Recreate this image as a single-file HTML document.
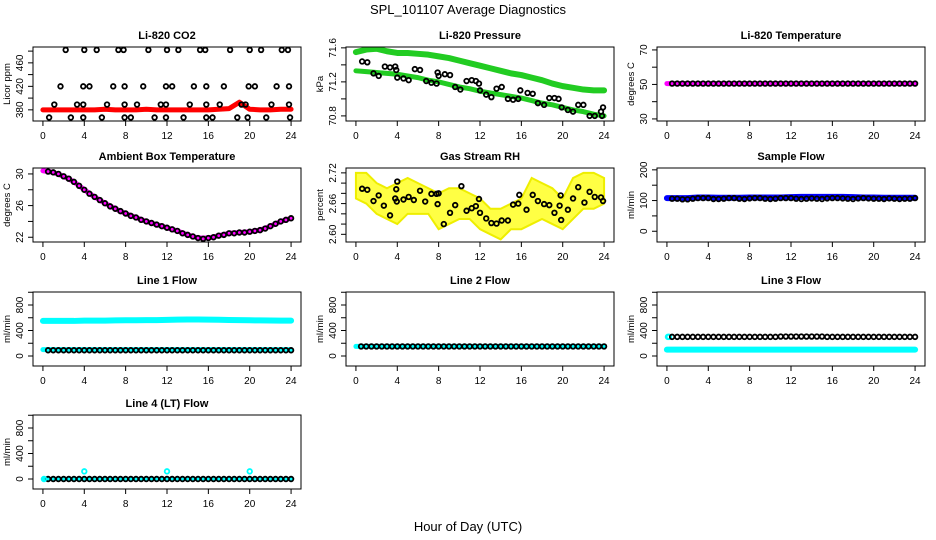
<!DOCTYPE html>
<html><head><meta charset="utf-8"><style>
html,body{margin:0;padding:0;background:#fff}
svg{display:block;font-family:"Liberation Sans",sans-serif}
</style></head><body>
<svg id="c" width="936" height="540" viewBox="0 0 936 540" xmlns="http://www.w3.org/2000/svg">
<text x="468" y="14" text-anchor="middle" font-size="13">SPL_101107  Average Diagnostics</text>
<text x="468" y="531" text-anchor="middle" font-size="13">Hour of Day (UTC)</text>
</svg>
<script>
const hours=[0,1,2,3,4,5,6,7,8,9,10,11,12,13,14,15,16,17,18,19,20,21,22,23,24];
const xTicks=[0,4,8,12,16,20,24];
const halfT=[0.5,1,1.5,2,2.5,3,3.5,4,4.5,5,5.5,6,6.5,7,7.5,8,8.5,9,9.5,10,10.5,11,11.5,12,12.5,13,13.5,14,14.5,15,15.5,16,16.5,17,17.5,18,18.5,19,19.5,20,20.5,21,21.5,22,22.5,23,23.5,24];
// CO2
const co2Band=[380,380,380,380,380,380,381,380,380,380,381,380,380,380,380,380,380,381,382,393,381,380,380,381,381];
const co2T=[2.2,4,5.2,7.3,7.8,10.2,12,13.1,15.2,15.7,18.1,20,21.1,23.1,23.7,1.7,3.9,4.5,6.8,7.9,9.7,11.9,12.5,14.6,15.8,17.5,19.9,20.5,22.6,23.8,1.1,3.3,3.9,6.2,7.9,9.1,11.4,11.9,14.2,15.8,17.1,19.2,19.6,22.1,23.8,0.6,2.7,3.9,5.7,7.9,8.5,10.8,11.9,13.6,15.8,16.4,18.8,19.8,21.6,23.9];
const co2V=[482,482,482,482,482,482,482,482,482,482,482,482,482,482,482,420,420,420,420,420,420,420,420,420,420,420,420,420,420,420,389,389,389,389,389,389,389,389,389,389,389,389,389,389,389,367,367,367,367,367,367,367,367,367,367,367,367,367,367,367];
// Pressure
const presUpper=[71.55,71.58,71.59,71.56,71.54,71.54,71.53,71.52,71.50,71.48,71.45,71.42,71.39,71.36,71.33,71.30,71.28,71.25,71.22,71.18,71.15,71.13,71.11,71.10,71.10];
const presLower=[71.33,71.32,71.31,71.30,71.29,71.27,71.25,71.22,71.20,71.17,71.14,71.12,71.09,71.07,71.05,71.03,71.01,70.98,70.95,70.93,70.90,70.87,70.85,70.82,70.80];
const presT=[0.6,1.1,1.7,2.2,2.8,3.3,3.8,3.9,4,4.6,5.1,5.7,6.2,6.8,7.3,7.8,7.9,8,8.6,9.1,9.6,10.1,10.7,11.2,11.6,11.9,12,12.6,13.1,13.6,14.1,14.7,15.2,15.7,15.9,16.6,17.1,17.6,18.2,18.7,19.2,19.6,19.9,20.5,21,21.5,22,22.6,23.1,23.7,23.8,23.9];
const presV=[71.44,71.43,71.30,71.27,71.38,71.37,71.38,71.34,71.25,71.24,71.22,71.35,71.34,71.21,71.19,71.18,71.31,71.27,71.29,71.28,71.14,71.11,71.21,71.22,71.21,71.18,71.10,71.05,71.02,71.12,71.14,71.00,70.99,71.00,71.10,71.07,71.06,70.95,70.93,71.01,71.01,71.00,70.90,70.87,70.85,70.93,70.93,70.80,70.80,70.85,70.80,70.90];
// Li-820 temperature
const tempBand=[50.5,50.5,50.5,50.5,50.5,50.5,50.5,50.5,50.5,50.5,50.5,50.5,50.5,50.5,50.5,50.5,50.5,50.5,50.5,50.5,50.5,50.5,50.5,50.5,50.5];
const tempBlack=[50.5,50.5,50.5,50.5,50.5,50.5,50.5,50.5,50.5,50.5,50.5,50.5,50.5,50.5,50.5,50.5,50.5,50.5,50.5,50.5,50.5,50.5,50.5,50.5,50.5,50.5,50.5,50.5,50.5,50.5,50.5,50.5,50.5,50.5,50.5,50.5,50.5,50.5,50.5,50.5,50.5,50.5,50.5,50.5,50.5,50.5,50.5,50.5];
// Ambient box temp
const ambBand=[30.4,30.2,29.7,29.0,28.0,27.1,26.3,25.6,25.0,24.5,24.0,23.6,23.2,22.8,22.3,21.9,21.9,22.2,22.5,22.6,22.7,22.9,23.4,24.0,24.4];
const ambBlack=[30.3,30.2,30.0,29.7,29.4,29.0,28.5,28.0,27.5,27.1,26.7,26.3,25.9,25.6,25.3,25.0,24.7,24.5,24.2,24.0,23.8,23.6,23.4,23.2,23.0,22.8,22.5,22.3,22.1,21.9,21.8,21.9,22.0,22.2,22.3,22.5,22.5,22.6,22.6,22.7,22.8,22.9,23.1,23.4,23.7,24.0,24.2,24.4];
// Gas stream RH
const rhHigh=[2.72,2.72,2.70,2.69,2.70,2.71,2.70,2.69,2.68,2.69,2.69,2.68,2.67,2.65,2.65,2.66,2.67,2.71,2.70,2.69,2.67,2.71,2.72,2.72,2.71];
const rhLow=[2.67,2.66,2.64,2.63,2.62,2.64,2.64,2.64,2.61,2.62,2.63,2.63,2.61,2.60,2.59,2.61,2.61,2.62,2.63,2.62,2.61,2.63,2.65,2.65,2.66];
const rhT=[0.6,1.1,1.7,2.2,2.7,3.3,3.8,3.9,3.95,4,4.6,5.1,5.6,6.2,6.7,7.3,7.8,7.9,8,8.5,9.1,9.6,10.2,10.7,11.2,11.6,11.9,12,12.6,13.1,13.6,14.1,14.7,15.2,15.7,15.8,16.5,17.1,17.6,18.2,18.7,19.2,19.7,19.8,19.85,20.5,21,21.5,22.1,22.6,23.1,23.7,23.9];
const rhV=[2.689,2.687,2.665,2.676,2.656,2.637,2.670,2.688,2.664,2.703,2.668,2.673,2.667,2.685,2.664,2.679,2.679,2.659,2.680,2.620,2.642,2.657,2.694,2.646,2.651,2.655,2.669,2.642,2.631,2.622,2.621,2.627,2.627,2.658,2.660,2.677,2.648,2.677,2.665,2.659,2.657,2.642,2.656,2.676,2.628,2.648,2.670,2.692,2.662,2.683,2.673,2.672,2.665];
// Sample flow
const sfBand=[108,108,108,110,110,109,109,109,110,110,110,110,111,112,112,112,112,112,111,110,110,109,109,109,109];
const sfBlack=[106,106,104,104,106,108,108,108,105,105,106,108,108,106,105,107,108,108,106,105,106,108,108,108,106,105,106,107,106,105,107,108,108,107,106,105,107,108,107,106,106,105,107,106,105,106,106,108];
// Line flows
const l1Upper=[550,550,550,550,555,555,555,558,560,560,562,563,566,570,572,572,570,568,565,563,560,558,556,555,555];
const l1Lower=[100,100,100,100,100,100,100,100,100,100,100,100,100,100,100,100,100,100,100,100,100,100,100,100,100];
const l1Black=[90,90,90,90,90,90,90,90,90,90,90,90,90,90,90,90,90,90,90,90,90,90,90,90,90,90,90,90,90,90,90,90,90,90,90,90,90,90,90,90,90,90,90,90,90,90,90,90];
const l2Band=[150,150,150,150,150,150,150,150,150,150,150,150,150,150,150,150,150,150,150,150,150,150,150,150,150];
const l2Black=[150,150,150,150,150,150,150,150,150,150,150,150,150,150,150,150,150,150,150,150,150,150,150,150,150,150,150,150,150,150,150,150,150,150,150,150,150,150,150,150,150,150,150,150,150,150,150,150];
const l3Band=[100,100,100,100,100,100,100,100,100,100,100,100,100,100,100,100,100,100,100,100,100,100,100,100,100];
const l3Black=[300,300,300,300,300,300,300,300,300,300,300,300,300,300,300,300,300,300,300,300,300,305,305,305,305,305,305,305,305,305,300,300,300,300,300,300,300,300,300,300,300,300,300,300,300,300,300,300];
const l3StartT=[0.1,0.2];
const l3StartV=[300,300];
const l4Band=[0,0,0,0,0,0,0,0,0,0,0,0,0,0,0,0,0,0,0,0,0,0,0,0,0];
const l4Black=[0,0,0,0,0,0,0,0,0,0,0,0,0,0,0,0,0,0,0,0,0,0,0,0,0,0,0,0,0,0,0,0,0,0,0,0,0,0,0,0,0,0,0,0,0,0,0,0];
const l4OutT=[0.1,4,12,20];
const l4OutV=[0,120,120,120];

const NS='http://www.w3.org/2000/svg';
const svg=document.getElementById('c');
function mk(tag,attrs,parent){const e=document.createElementNS(NS,tag);for(const k in attrs)e.setAttribute(k,attrs[k]);(parent||svg).appendChild(e);return e;}
const colL=[33,346,657], W=268, rowT=[47,168,292,415], H=74;

function panel(col,row,title,yTitle,lo,hi,ticks,labels,draw,name){
  const L=colL[col],T=rowT[row];
  const g=mk('g',{});
  
  
  const x=v=>L+W*(v+0.96)/25.92;
  const y=v=>T+H-(v-lo)/(hi-lo)*H;
  const cp='clip'+col+row;
  const d=mk('clipPath',{id:cp},g);mk('rect',{x:L,y:T,width:W,height:H},d);
  const plot=mk('g',{'clip-path':'url(#'+cp+')'},g);
  
  
  draw(plot,x,y);
  const box=mk('rect',{x:L,y:T,width:W,height:H,fill:'none',stroke:'#000','stroke-width':1},g);
  
  
  const t=mk('text',{x:L+W/2,y:T-8,'text-anchor':'middle','font-size':11,'font-weight':'bold'},g);t.textContent=title;
  
  
  const xa=mk('g',{},g);
  
  
  mk('line',{x1:x(0),x2:x(24),y1:T+H,y2:T+H,stroke:'#000'},xa);
  xTicks.forEach(v=>{mk('line',{x1:x(v),x2:x(v),y1:T+H,y2:T+H+5,stroke:'#000'},xa);
    const tx=mk('text',{x:x(v),y:T+H+18,'text-anchor':'middle','font-size':10},xa);tx.textContent=v;});
  const ya=mk('g',{},g);
  
  
  mk('line',{x1:L,x2:L,y1:y(ticks[0]),y2:y(ticks[ticks.length-1]),stroke:'#000'},ya);
  ticks.forEach(v=>mk('line',{x1:L-5,x2:L,y1:y(v),y2:y(v),stroke:'#000'},ya));
  labels.forEach(v=>{const tx=mk('text',{x:L-10,y:y(v),'text-anchor':'middle','font-size':10,transform:`rotate(-90 ${L-10} ${y(v)})`},ya);tx.textContent=v;});
  const yt=mk('text',{x:L-23,y:T+H/2,'text-anchor':'middle','font-size':9.5,transform:`rotate(-90 ${L-23} ${T+H/2})`},g);yt.textContent=yTitle;
  
  
}
function band(p,x,y,ts,vs,color,w,name){
  const pl=mk('polyline',{points:ts.map((t,i)=>x(t)+','+y(vs[i])).join(' '),fill:'none',stroke:color,'stroke-width':w,'stroke-linejoin':'round','stroke-linecap':'round'},p);
  
  
}
function pts(p,x,y,ts,vs,color,name){
  const g=mk('g',{},p);
  
  
  ts.forEach((t,i)=>mk('circle',{cx:x(t),cy:y(vs[i]),r:2.3,fill:'none',stroke:color,'stroke-width':1.8},g));
}
const lineTicks=[0,200,400,600,800,1000],lineLabels=[0,400,800];

panel(0,0,'Li-820 CO2','Licor ppm',361,487,[380,400,420,440,460,480],[380,420,460],(p,x,y)=>{
  band(p,x,y,hours,co2Band,'#ff0000',5,'co2-band');pts(p,x,y,co2T,co2V,'#000','co2-points');},'co2');
panel(1,0,'Li-820 Pressure','kPa',70.74,71.61,[70.8,71.0,71.2,71.4,71.6],[70.8,71.2,71.6],(p,x,y)=>{
  band(p,x,y,hours,presUpper,'#22cc22',6,'pressure-upper-band');band(p,x,y,hours,presLower,'#22cc22',5,'pressure-lower-band');pts(p,x,y,presT,presV,'#000','pressure-points');},'pressure');
panel(2,0,'Li-820 Temperature','degrees C',28.8,71.7,[30,40,50,60,70],[30,50,70],(p,x,y)=>{
  band(p,x,y,hours,tempBand,'#ff00ff',5,'li820-temp-band');pts(p,x,y,halfT,tempBlack,'#000','li820-temp-points');},'li820-temp');
panel(0,1,'Ambient Box Temperature','degrees C',21.4,30.75,[22,24,26,28,30],[22,26,30],(p,x,y)=>{
  band(p,x,y,hours,ambBand,'#ff00ff',5,'ambient-temp-band');pts(p,x,y,halfT,ambBlack,'#000','ambient-temp-points');},'ambient-temp');
panel(1,1,'Gas Stream RH','percent',2.585,2.7295,[2.60,2.62,2.64,2.66,2.68,2.70,2.72],['2.60','2.66','2.72'],(p,x,y)=>{
  const poly=mk('polygon',{points:hours.map((t,i)=>x(t)+','+y(rhHigh[i])).concat(hours.slice().reverse().map((t,j)=>x(t)+','+y(rhLow[hours.length-1-j]))).join(' '),fill:'#ffff44',stroke:'#eeee00','stroke-width':2},p);
  
  
  pts(p,x,y,rhT,rhV,'#000','rh-points');},'rh');
panel(2,1,'Sample Flow','ml/min',-35,206,[0,50,100,150,200],[0,100,200],(p,x,y)=>{
  band(p,x,y,hours,sfBand,'#0000ff',6,'sample-flow-band');pts(p,x,y,halfT,sfBlack,'#000','sample-flow-points');},'sample-flow');
panel(0,2,'Line 1 Flow','ml/min',-157,1004,lineTicks,lineLabels,(p,x,y)=>{
  band(p,x,y,hours,l1Upper,'#00ffff',6,'line1-upper-band');band(p,x,y,hours,l1Lower,'#00ffff',5,'line1-lower-band');pts(p,x,y,halfT,l1Black,'#000','line1-points');},'line1');
panel(1,2,'Line 2 Flow','ml/min',-157,1004,lineTicks,lineLabels,(p,x,y)=>{
  band(p,x,y,hours,l2Band,'#00ffff',5,'line2-band');pts(p,x,y,halfT,l2Black,'#000','line2-points');},'line2');
panel(2,2,'Line 3 Flow','ml/min',-157,1004,lineTicks,lineLabels,(p,x,y)=>{
  band(p,x,y,hours,l3Band,'#00ffff',6,'line3-band');pts(p,x,y,l3StartT,l3StartV,'#00ffff','line3-start-points');pts(p,x,y,halfT,l3Black,'#000','line3-points');},'line3');
panel(0,3,'Line 4 (LT) Flow','ml/min',-157,1004,lineTicks,lineLabels,(p,x,y)=>{
  band(p,x,y,hours,l4Band,'#00ffff',4,'line4-band');pts(p,x,y,halfT,l4Black,'#000','line4-points');pts(p,x,y,l4OutT,l4OutV,'#00ffff','line4-outliers');},'line4');
</script>
</body></html>
